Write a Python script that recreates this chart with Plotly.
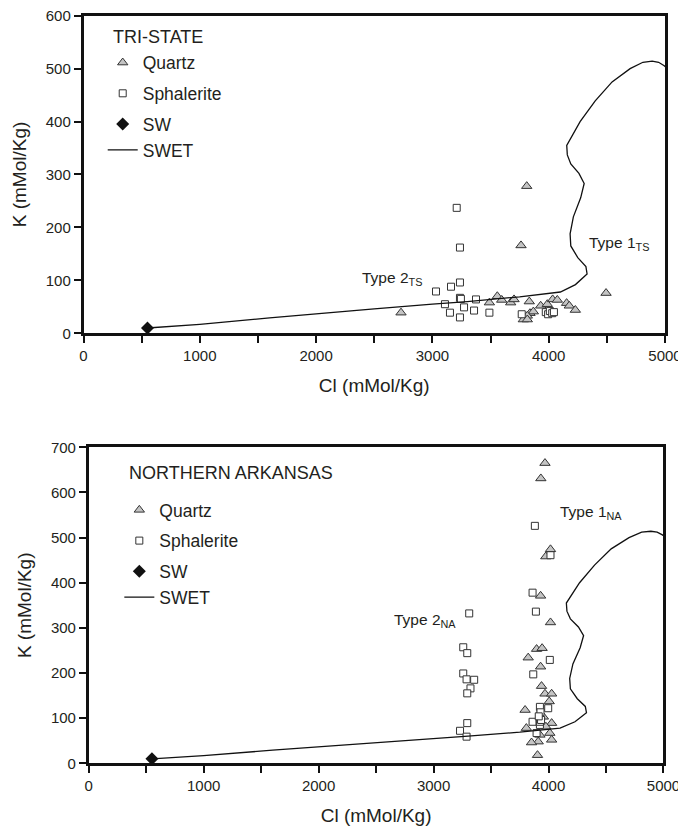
import plotly.graph_objects as go

# ---------------- data ----------------
# Tri-State
ts_quartz_cl = [2730, 3490, 3558, 3596, 3673, 3702, 3762, 3811, 3833, 3839, 3868, 3816, 3782, 3816,
                3931, 3988, 4034, 4074, 4154, 4177, 4229, 4493]
ts_quartz_k = [39, 58, 70, 63, 58, 64, 166, 278, 60, 38, 41, 33, 26, 26,
               52, 55, 64, 63, 57, 52, 44, 76]
ts_sph_cl = [3031, 3108, 3151, 3160, 3209, 3237, 3237, 3237, 3245, 3237, 3272, 3358, 3375, 3490,
             3768, 3975, 3995, 4010, 4030, 4045]
ts_sph_k = [79, 55, 39, 88, 237, 162, 96, 67, 65, 30, 49, 43, 64, 39,
            36, 40, 36, 42, 38, 40]

# Northern Arkansas
na_quartz_cl = [3969, 3933, 4017, 3976, 3931, 4017, 3823, 3896, 3944, 3931, 3939, 3969, 4027, 4006,
                3796, 3955, 4027, 3807, 3977, 4011, 3925, 3910, 3852, 4027, 3904]
na_quartz_k = [665, 631, 474, 458, 371, 312, 234, 253, 255, 214, 171, 154, 154, 137,
               118, 103, 89, 78, 81, 67, 63, 48, 46, 52, 18]
na_sph_cl = [3881, 4017, 3861, 3890, 3310, 3258, 3293, 3258, 3287, 3353, 3321, 3293, 3293, 3230,
             3287, 4011, 3867, 3925, 3997, 3861, 3925, 3925, 3925, 3925, 3930, 3935, 3915, 3896]
na_sph_k = [526, 461, 378, 336, 332, 257, 244, 199, 186, 185, 166, 155, 89, 72,
            59, 229, 197, 125, 122, 92, 85, 92, 99, 106, 113, 96, 104, 67]

# Seawater
sw_cl = [550]
sw_k = [10]

# Seawater evaporation trajectory (SWET)
swet_cl = [550, 1000, 1600, 2000, 2500, 3000, 3300, 3750, 4100, 4230, 4330, 4320, 4250, 4190,
           4184, 4212, 4275, 4305, 4260, 4190, 4160, 4155, 4185, 4270, 4400, 4545, 4700, 4810,
           4890, 4945, 4990, 5050]
swet_k = [10, 17, 29, 36, 46, 55, 60, 69, 78, 92, 112, 126, 143, 165,
          188, 220, 256, 283, 302, 320, 337, 355, 367, 400, 439, 475, 500, 512,
          514, 512, 506, 495]

x_ticks = [0, 1000, 2000, 3000, 4000, 5000]

FONT = "Liberation Sans, Arial, sans-serif"
TXT = "#231f20"

fig = go.Figure()

def add_panel(q_cl, q_k, s_cl, s_k, xa, ya, leg):
    fig.add_trace(go.Scatter(x=q_cl, y=q_k, mode="markers", name="Quartz", xaxis=xa, yaxis=ya,
                             legend=leg, legendgroup=leg + "q",
                             marker=dict(symbol="triangle-up", size=9, color="#c4c4c4",
                                         line=dict(color="#333333", width=1))))
    fig.add_trace(go.Scatter(x=s_cl, y=s_k, mode="markers", name="Sphalerite", xaxis=xa, yaxis=ya,
                             legend=leg, legendgroup=leg + "s",
                             marker=dict(symbol="square", size=7, color="white",
                                         line=dict(color="#333333", width=1))))
    fig.add_trace(go.Scatter(x=sw_cl, y=sw_k, mode="markers", name="SW", xaxis=xa, yaxis=ya,
                             legend=leg, legendgroup=leg + "w",
                             marker=dict(symbol="diamond", size=10, color="#111111",
                                         line=dict(color="#111111", width=0))))
    fig.add_trace(go.Scatter(x=swet_cl, y=swet_k, mode="lines", name="SWET", xaxis=xa, yaxis=ya,
                             legend=leg, legendgroup=leg + "w",
                             line=dict(color="#111111", width=1.3)))

add_panel(ts_quartz_cl, ts_quartz_k, ts_sph_cl, ts_sph_k, "x", "y", "legend")
add_panel(na_quartz_cl, na_quartz_k, na_sph_cl, na_sph_k, "x2", "y2", "legend2")

axis_common = dict(showline=True, linecolor="#111111", linewidth=2.5, mirror=True,
                   ticks="outside", ticklen=7, tickwidth=2, tickcolor="#111111",
                   showgrid=False, zeroline=False, ticklabeloverflow="allow",
                   tickfont=dict(family=FONT, size=15, color=TXT),
                   title_font=dict(family=FONT, size=19, color=TXT))

xcommon = dict(axis_common, range=[0, 5000], tickvals=x_ticks,
               minor=dict(dtick=500, ticks="outside", ticklen=7, tickwidth=2, tickcolor="#111111"),
               title_text="Cl (mMol/Kg)", title_standoff=16)

fig.update_layout(
    width=678, height=835,
    margin=dict(l=0, r=0, t=0, b=0),
    paper_bgcolor="white", plot_bgcolor="white",
    template="none",
    xaxis=dict(xcommon, domain=[0.12316, 0.98083], anchor="y"),
    yaxis=dict(axis_common, domain=[0.60084, 0.98120], anchor="x", range=[0, 600], dtick=100,
               title_text="K (mMol/Kg)", title_standoff=15),
    xaxis2=dict(xcommon, domain=[0.13083, 0.97861], anchor="y2"),
    yaxis2=dict(axis_common, domain=[0.08587, 0.46431], anchor="x2", range=[0, 700], dtick=100,
                title_text="K (mMol/Kg)", title_standoff=15),
    legend=dict(x=0.1515, y=0.9465, xanchor="left", yanchor="top", bgcolor="rgba(0,0,0,0)",
                font=dict(family=FONT, size=17.5, color=TXT), tracegroupgap=5),
    legend2=dict(x=0.176, y=0.4108, xanchor="left", yanchor="top", bgcolor="rgba(0,0,0,0)",
                 font=dict(family=FONT, size=17.5, color=TXT), tracegroupgap=5),
    showlegend=True,
)

ann_font = dict(family=FONT, size=15.5, color=TXT)
fig.add_annotation(text="TRI-STATE", xref="paper", yref="paper", x=110.7 / 678, y=(835 - 36.7) / 835,
                   xanchor="left", yanchor="middle", showarrow=False, font=dict(family=FONT, size=18, color=TXT))
fig.add_annotation(text="NORTHERN ARKANSAS", xref="paper", yref="paper", x=126.7 / 678, y=(835 - 473.3) / 835,
                   xanchor="left", yanchor="middle", showarrow=False, font=dict(family=FONT, size=18, color=TXT))
fig.add_annotation(text="Type 2<sub>TS</sub>", xref="x", yref="y", x=2378, y=104,
                   xanchor="left", yanchor="middle", showarrow=False, font=ann_font)
fig.add_annotation(text="Type 1<sub>TS</sub>", xref="x", yref="y", x=4327, y=170,
                   xanchor="left", yanchor="middle", showarrow=False, font=ann_font)
fig.add_annotation(text="Type 2<sub>NA</sub>", xref="x2", yref="y2", x=2635, y=317,
                   xanchor="left", yanchor="middle", showarrow=False, font=ann_font)
fig.add_annotation(text="Type 1<sub>NA</sub>", xref="x2", yref="y2", x=4083, y=555,
                   xanchor="left", yanchor="middle", showarrow=False, font=ann_font)

fig.write_html("out.html")
